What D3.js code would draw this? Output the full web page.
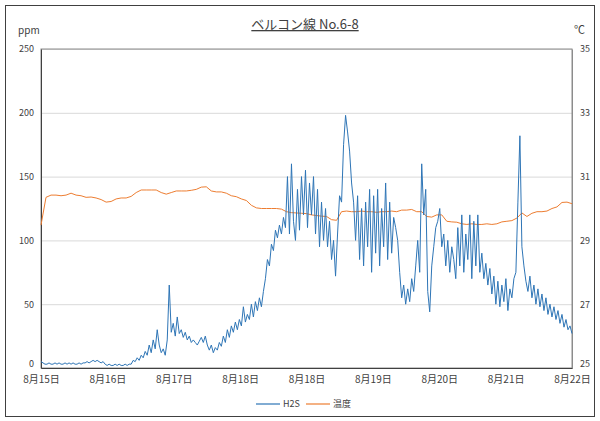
<!DOCTYPE html>
<html>
<head>
<meta charset="utf-8">
<script src="https://cdn.jsdelivr.net/npm/d3@7"></script>
<style>
  body { margin: 0; background: #fff; }
  text { font-family: "Noto Sans CJK JP", "Noto Sans", sans-serif; }
</style>
</head>
<body>
<svg id="svg1" width="600" height="421"></svg>
<script>
// tick labels along the bottom (evenly spaced)
var dayLabels = ["8月15日", "8月16日", "8月17日", "8月18日", "8月18日", "8月19日", "8月20日", "8月21日", "8月22日"];

// H2S ppm, sampled evenly from first to last tick
var h2s = [
    5,4,3,3,4,3,3,4,3,4, 3,3,4,3,4,3,4,3,3,4, 3,4,4,5,4,5,6,5,6,5, 4,5,3,2,3,2,2,3,2,3, 2,2,3,2,3,3,6,5,
    8,6,10,8,13,10,18,12,22,15,30,18,12,15,10,
    22,65,28,35,25,40,27,30,24,28, 22,25,20,22,20,18,21,24,20,25, 18,14,18,12,16,14,20,17,25,20,
    30,24,33,28,36,30,38,33,48,36, 42,38,50,40,52,45,55,48,60,70, 85,80,97,92,108,102,112,105,118,110,
    150,105,160,115,100,140,108,150,120,155, 110,145,120,150,105,140,95,130,100,125,
    95,115,85,100,72,105,135,130,175,198, 185,170,145,130,100,135,85,125,80,130,
    95,140,75,135,90,140,80,125,95,145, 85,130,90,118,110,
    100,75,55,65,50,62,52,70,60,80, 100,75,160,120,140,60,44,80,95,110,
    115,125,95,105,80,100,75,95,85,70, 110,80,120,75,105,85,120,70,115,80,
    120,75,90,70,82,65,78,58,72,50, 68,48,65,52,70,45,62,55,70,75,
    130,182,95,80,68,60,72,55,65,50, 62,48,58,45,55,42,50,40,48,38,
    45,35,42,32,38,30,33,27
];

// temperature, sampled evenly from first to last tick
var temp = [
    29.48,30.35,30.42,30.42,30.40,30.42,30.48,30.42,30.40,30.35,
    30.36,30.33,30.28,30.2,30.22,30.3,30.33,30.33,30.38,30.5,
    30.58,30.58,30.58,30.58,30.5,30.45,30.5,30.55,30.55,30.55,
    30.57,30.6,30.67,30.68,30.55,30.52,30.52,30.48,30.4,30.37,
    30.3,30.25,30.1,30.02,30.0,30.0,30.0,30.0,29.98,29.9,
    29.87,29.86,29.85,29.84,29.8,29.78,29.76,29.75,29.65,29.63,
    29.9,29.92,29.9,29.9,29.92,29.9,29.9,29.88,29.9,29.9,
    29.92,29.9,29.95,29.95,29.97,29.9,29.9,29.75,29.73,29.8,
    29.8,29.6,29.58,29.57,29.52,29.5,29.52,29.5,29.5,29.52,
    29.5,29.52,29.58,29.6,29.62,29.7,29.86,29.75,29.85,29.9,
    29.9,29.92,30.0,30.05,30.19,30.2,30.15
];

var ppmTicks = [0, 50, 100, 150, 200, 250];
var tempTicks = [25, 27, 29, 31, 33, 35];

var svg = d3.select("#svg1"),
    margin = { top: 49, right: 28, bottom: 53, left: 41 },
    width = +svg.attr("width") - margin.left - margin.right,
    height = +svg.attr("height") - margin.top - margin.bottom,
    g = svg.append("g").attr("transform", "translate(" + margin.left + "," + margin.top + ")");

// outer frame
svg.append("rect")
    .attr("x", 5.5).attr("y", 5.5)
    .attr("width", 589).attr("height", 411)
    .attr("fill", "none").attr("stroke", "#404040");

var x = d3.scaleLinear().domain([0, dayLabels.length - 1]).range([0, width]);
var y = d3.scaleLinear().domain([0, 250]).range([height, 0]);
var y2 = d3.scaleLinear().domain([25, 35]).range([height, 0]);

// gridlines
g.append("g")
    .call(d3.axisLeft(y).tickValues(ppmTicks).tickSize(-width).tickFormat(""))
    .call(function (a) {
        a.select(".domain").remove();
        a.selectAll("line").attr("stroke", "#d9d9d9");
    });

// plot box
g.append("rect")
    .attr("width", width).attr("height", height)
    .attr("fill", "none").attr("stroke", "#8c8c8c");

// left axis
g.append("g")
    .call(d3.axisLeft(y).tickValues(ppmTicks).tickSize(0).tickPadding(7))
    .call(function (a) {
        a.select(".domain").attr("stroke", "#404040");
        a.selectAll("text").style("font-size", "9px").attr("fill", "#404040")
            .attr("dy", function (d) { return d === 0 ? "-0.2em" : "0.32em"; });
    });

// right axis
g.append("g")
    .attr("transform", "translate(" + width + ",0)")
    .call(d3.axisRight(y2).tickValues(tempTicks).tickSize(0).tickPadding(8))
    .call(function (a) {
        a.select(".domain").attr("stroke", "#8c8c8c");
        a.selectAll("text").style("font-size", "9px").attr("fill", "#404040")
            .attr("dy", function (d) { return d === 25 ? "-0.2em" : "0.32em"; });
    });

// bottom axis
g.append("g")
    .attr("transform", "translate(0," + height + ")")
    .call(d3.axisBottom(x).tickValues(d3.range(dayLabels.length))
        .tickSize(0).tickPadding(8).tickFormat(function (d) { return dayLabels[d]; }))
    .call(function (a) {
        a.select(".domain").attr("stroke", "#404040");
        a.selectAll("text").style("font-size", "10px").attr("fill", "#404040");
    });

// temperature line
var tLine = d3.line()
    .x(function (d, i) { return x(i / (temp.length - 1) * (dayLabels.length - 1)); })
    .y(function (d) { return y2(d); });

g.append("path")
    .datum(temp)
    .attr("d", tLine)
    .attr("fill", "none")
    .attr("stroke", "#ed7d31")
    .attr("stroke-width", 1);

// H2S line
var hLine = d3.line()
    .x(function (d, i) { return x(i / (h2s.length - 1) * (dayLabels.length - 1)); })
    .y(function (d) { return y(d); });

g.append("path")
    .datum(h2s)
    .attr("d", hLine)
    .attr("fill", "none")
    .attr("stroke", "#2e75b6")
    .attr("stroke-width", 1);

// title
svg.append("text")
    .attr("x", 305)
    .attr("y", 29)
    .attr("text-anchor", "middle")
    .style("font-size", "13px")
    .style("text-decoration", "underline")
    .attr("fill", "#404040")
    .text("ベルコン線 No.6-8");

// unit labels
svg.append("text")
    .attr("x", 18).attr("y", 34)
    .style("font-size", "10px").attr("fill", "#404040")
    .text("ppm");

svg.append("text")
    .attr("x", 574).attr("y", 34)
    .style("font-size", "11px").attr("fill", "#404040")
    .text("℃");

// legend
var legend = [
    { name: "H2S", color: "#2e75b6", x: 256 },
    { name: "温度", color: "#ed7d31", x: 306 }
];

var lg = svg.selectAll(".legend")
    .data(legend)
    .enter().append("g")
    .attr("class", "legend")
    .attr("transform", function (d) { return "translate(" + d.x + ",404)"; });

lg.append("line")
    .attr("x1", 0).attr("x2", 24)
    .attr("stroke", function (d) { return d.color; })
    .attr("stroke-width", 1.2);

lg.append("text")
    .attr("x", 27).attr("y", 3)
    .style("font-size", "9px").attr("fill", "#404040")
    .text(function (d) { return d.name; });
</script>
</body>
</html>
